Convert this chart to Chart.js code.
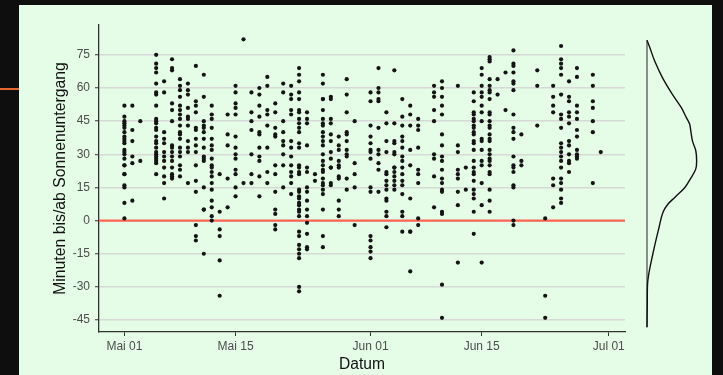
<!DOCTYPE html>
<html>
<head>
<meta charset="utf-8">
<script src="https://cdn.jsdelivr.net/npm/chart.js@4.4.1/dist/chart.umd.min.js"></script>
<style>
  html, body { margin: 0; padding: 0; background: #0e0e0e; width: 723px; height: 375px; overflow: hidden; }
  #panel { position: absolute; left: 19px; top: 5px; width: 693px; height: 370px; background: #e5fce7; }
  #mark { position: absolute; left: 0; top: 88px; width: 19px; height: 2px; background: #e8652f; }
  #main { position: absolute; left: 0; top: 0; }
  #dens { position: absolute; left: 637px; top: 0; }
</style>
</head>
<body>
<div id="panel"></div>
<div id="mark"></div>
<canvas id="main" width="723" height="375"></canvas>
<canvas id="dens" width="86" height="375"></canvas>
<script>
// days after 1 May, one entry per column of dots
const days = [0, 1, 2, 4, 5, 6, 7, 8, 9, 10, 11, 12, 13, 14, 15, 16, 17, 18, 19, 20, 21,
  22, 23, 24, 25, 26, 27, 28, 29, 31, 32, 33, 34, 35, 36, 37, 39, 40, 42, 43, 44, 45,
  46, 47, 48, 49, 50, 52, 53, 54, 55, 56, 57, 59, 60];

// minutes before/after sunset for each day
const minutes = [
  [52, 47, 45, 44, 43, 42, 40, 38, 37, 36, 35, 32, 31, 30, 28, 25, 25, 21, 21, 16, 15, 8, 1],
  [52, 41, 36, 29, 26, 9],
  [45, 27],
  [75, 71, 69, 67, 62, 58, 57, 52, 46, 45, 44, 42, 41, 38, 36, 35, 33, 31, 30, 29, 28, 27, 26, 21],
  [63, 58, 40, 37, 35, 31, 29, 27, 24, 20, 17, 10],
  [73, 69, 68, 53, 50, 45, 34, 33, 31, 29, 27, 24, 21, 20, 19],
  [64, 61, 59, 56, 52, 50, 48, 46, 43, 40, 39, 37, 33, 31, 29, 25, 23, 20],
  [62, 59, 57, 51, 47, 46, 43, 36, 33, 31, 17],
  [70, 54, 52, 49, 42, 41, 37, 34, 31, 25, 18, 13, -2, -7, -9],
  [66, 56, 45, 43, 42, 40, 37, 33, 29, 28, 27, 15, 5, 5, -15],
  [52, 48, 46, 42, 37, 34, 32, 28, 25, 24, 22, 20, 17, 14, 9, 6, 2, 0],
  [21, 4, -4, -7, -18, -34],
  [48, 39, 34, 19, 6],
  [61, 58, 53, 51, 48, 38, 33, 30, 28, 23, 21, 15, 11],
  [82, 17],
  [58, 49, 45, 41, 30, 21, 17],
  [60, 57, 52, 47, 40, 39, 33, 29, 27, 20, 11],
  [65, 61, 50, 48, 43, 33, 22, 17],
  [53, 49, 42, 39, 38, 25, 21, 13, 5, 3, -2, -4],
  [62, 58, 45, 40, 36, 34, 30, 25, 15],
  [61, 57, 55, 50, 48, 36, 33, 29, 25, 22, 20, 17, 12],
  [69, 66, 63, 58, 55, 50, 49, 46, 44, 42, 40, 35, 33, 25, 24, 22, 21, 14, 13, 11, 10, 8, 7, 5, 4, 2, -5, -7, -11, -13, -15, -17, -30, -32],
  [49, 46, 44, 34, 24, 22, 15, 13, 9, 5, 2, -1, -6, -12, -13],
  [21, 18],
  [66, 62, 55, 55, 50, 46, 44, 43, 40, 38, 36, 34, 30, 27, 25, 23, 22, 19, 17, 16, 14, 12, 5, -7, -12],
  [56, 55, 46, 44, 39, 36, 31, 28, 24, 24, 17, 16],
  [38, 34, 32, 27, 25, 24, 20, 19, 9, 5, 2],
  [64, 57, 49, 40, 39, 36, 32, 30, 29, 19, 14],
  [45, 26, 21, 15, -2],
  [58, 54, 43, 38, 35, 32, 31, 28, 15, 13, -7, -9, -12, -14, -17],
  [69, 60, 58, 55, 54, 42, 32, 30, 26, 23, 13],
  [49, 44, 36, 31, 22, 21, 18, 16, 14, 10, 9, 4, 2, -3],
  [68, 44, 36, 35, 31, 30, 24, 24, 22, 20, 18, 16, 14],
  [55, 47, 43, 38, 36, 33, 29, 27, 24, 21, 18, 16, 12, 4, 2, -5],
  [52, 48, 43, 32, 25, 10, -5, -5, -23],
  [46, 43, 41, 33, 23, 21, 17, 1, -2],
  [61, 58, 56, 50, 45, 30, 28, 20, 6],
  [63, 60, 56, 52, 48, 39, 34, 29, 27, 23, 19, 17, 14, 13, 4, 3, -29, -44],
  [61, 34, 31, 23, 21, 19, 13, 7, -19],
  [24, 14],
  [58, 54, 49, 48, 46, 45, 43, 42, 40, 39, 36, 35, 32, 27, 24, 22, 21, 18, 14, 12, 10, 4, -6],
  [69, 66, 61, 58, 56, 52, 49, 45, 37, 36, 32, 27, 25, 17, 7, -19],
  [74, 73, 72, 64, 61, 59, 58, 55, 49, 48, 45, 43, 42, 39, 37, 36, 32, 30, 28, 27, 25, 22, 21, 14, 9, 4],
  [64, 57],
  [67, 50],
  [77, 71, 70, 67, 63, 62, 59, 48, 42, 40, 37, 29, 25, 24, 22, 16, 15, 0, -2],
  [39, 27, 25],
  [68, 61, 43],
  [1, -34, -44],
  [61, 56, 52, 49, 19, 16, 6],
  [79, 73, 71, 69, 66, 57, 48, 46, 42, 35, 33, 31, 29, 27, 24, 19, 17, 14, 10, 8],
  [63, 56, 54, 49, 47, 44, 36, 34, 30, 27, 26, 22],
  [69, 65, 52, 49, 46, 41, 38, 32, 30, 29, 28],
  [66, 61, 54, 51, 45, 40, 17],
  [31]
];

const xTicks = [0, 14, 31, 45, 61];
const xLabels = ['Mai 01', 'Mai 15', 'Jun 01', 'Jun 15', 'Jul 01'];
const yTicks = [-45, -30, -15, 0, 15, 30, 45, 60, 75];
const sunset = 0;

// marginal density
const densY = [81.6, 78.3, 72.3, 64.7, 57.2, 51.2, 46.7, 43.7, 40.7, 36.1, 31.6, 27.1, 23.4,
  19.6, 15.0, 10.5, 7.5, 3.8, -3.0, -15.0, -27.1, -37.6, -48.2];
const densVal = [0, 0.0010, 0.0027, 0.0055, 0.0090, 0.0122, 0.0140, 0.0152, 0.0156, 0.0162,
  0.0174, 0.0177, 0.0174, 0.0158, 0.0135, 0.0099, 0.0075, 0.0057, 0.0043, 0.0021, 0.0003, 0.0001, 0];

const yMin = -50.4, yMax = 88.5;
const font = 'Liberation Sans, Arial, sans-serif';

const points = [];
days.forEach((d, i) => minutes[i].forEach(m => points.push({ x: d, y: m })));

const sunsetLine = {
  id: 'sunsetLine',
  beforeDatasetsDraw(chart) {
    const { ctx, chartArea, scales } = chart;
    const py = scales.y.getPixelForValue(sunset);
    ctx.save();
    ctx.strokeStyle = '#ff6553';
    ctx.lineWidth = 2.2;
    ctx.beginPath();
    ctx.moveTo(chartArea.left, py);
    ctx.lineTo(chartArea.right, py);
    ctx.stroke();
    ctx.restore();
  }
};

new Chart(document.getElementById('main'), {
  type: 'scatter',
  data: {
    datasets: [{
      data: points,
      backgroundColor: '#141414',
      borderWidth: 0,
      pointRadius: 2.1,
      pointHoverRadius: 2.1
    }]
  },
  options: {
    responsive: false,
    animation: false,
    layout: { padding: { left: 0, top: 25, right: 98, bottom: 0 } },
    plugins: { legend: { display: false }, tooltip: { enabled: false } },
    scales: {
      x: {
        type: 'linear',
        min: -3.2,
        max: 63.05,
        afterBuildTicks: s => { s.ticks = xTicks.map(v => ({ value: v })); },
        afterFit: s => { s.height = 43; },
        grid: { color: 'rgba(0,0,0,0)', tickColor: '#333', tickLength: 4, tickWidth: 1 },
        border: { color: '#333', width: 1.3 },
        ticks: {
          callback: (v, i) => xLabels[i],
          color: '#4d4d4d',
          font: { family: font, size: 12 },
          padding: 3,
          maxRotation: 0,
          autoSkip: false
        },
        title: {
          display: true,
          text: 'Datum',
          color: '#111',
          font: { family: font, size: 15.6 },
          padding: { top: 0, bottom: 1 }
        }
      },
      y: {
        min: yMin,
        max: yMax,
        afterBuildTicks: s => { s.ticks = yTicks.map(v => ({ value: v })); },
        afterFit: s => { s.width = 99; },
        grid: { color: '#d6d9d6', lineWidth: 1.5, tickColor: '#333', tickLength: 4, tickWidth: 1 },
        border: { color: '#333', width: 1.3 },
        ticks: { color: '#4d4d4d', font: { family: font, size: 12 }, padding: 5 },
        title: {
          display: true,
          text: 'Minuten bis/ab Sonnenuntergang',
          color: '#111',
          font: { family: font, size: 15.8 },
          padding: { top: 51, bottom: 0 }
        }
      }
    }
  },
  plugins: [sunsetLine]
});

new Chart(document.getElementById('dens'), {
  type: 'scatter',
  data: {
    datasets: [
      {
        data: densVal.map((v, i) => ({ x: v, y: densY[i] })),
        showLine: true,
        borderColor: '#111',
        borderWidth: 1.4,
        pointRadius: 0,
        tension: 0.35,
        clip: false
      },
      {
        data: [{ x: 0, y: densY[0] }, { x: 0, y: densY[densY.length - 1] }],
        showLine: true,
        borderColor: '#555',
        borderWidth: 1.3,
        pointRadius: 0,
        clip: false
      }
    ]
  },
  options: {
    responsive: false,
    animation: false,
    layout: { padding: { left: 10, top: 25, right: 0, bottom: 43 } },
    plugins: { legend: { display: false }, tooltip: { enabled: false } },
    scales: {
      x: { display: false, min: 0, max: 0.0271 },
      y: { display: false, min: yMin, max: yMax }
    }
  }
});
</script>
</body>
</html>
